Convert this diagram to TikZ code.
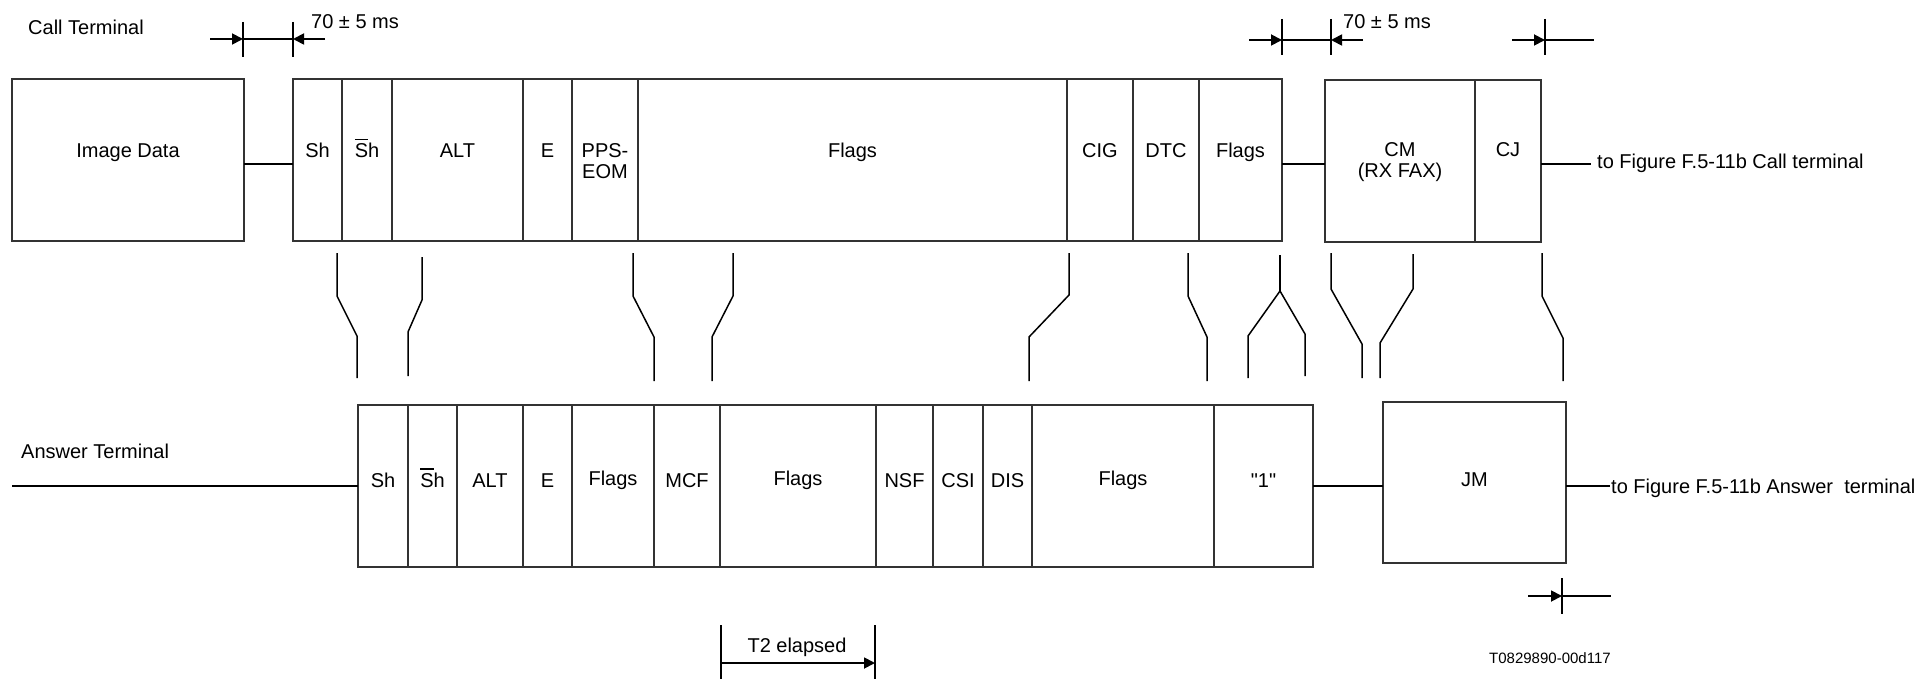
\documentclass[tikz,border=0pt]{standalone}
\usepackage{fontspec}
\setmainfont{Liberation Sans}
\newfontfamily\plainq[Ligatures=TeXOff]{Liberation Sans}
\usetikzlibrary{arrows.meta}
\newcommand\lbl[2][2pt]{\raisebox{#1}[0pt][0pt]{\begin{tabular}[t]{@{}c@{}}#2\end{tabular}}}
\newcommand\Sbar{\setbox0\hbox{S}\rlap{\rule[17.5pt]{\wd0}{1.3pt}}\box0 h}
\begin{document}
\begin{tikzpicture}[x=1pt,y=-1pt,
  every node/.style={font=\fontsize{20}{21}\selectfont},
  cell/.style={draw=black!80,line width=1.1pt,rectangle,anchor=north west,outer sep=0pt,inner sep=0pt,minimum height=162pt},
  txt/.style={anchor=base west,inner sep=0pt},
  wire/.style={line width=1.8pt},
  zz/.style={line width=1.5pt},
  tick/.style={line width=1.8pt},
  arr/.style={-{Triangle[length=11pt,width=11pt]},line width=1.8pt}]
\useasboundingbox (0,0) rectangle (1932,679);

% ---- Call terminal row ----
\node[txt] (ct) at (28,35) {Call Terminal};
\node[cell,minimum width=232pt] (img) at (12,79) {\lbl{Image Data}};
\node[cell,minimum width=49pt] (tsh) at (293,79) {\lbl{Sh}};
\node[cell,minimum width=50pt] (tshb) at (342,79) {\lbl{\Sbar}};
\node[cell,minimum width=131pt] (talt) at (392,79) {\lbl{ALT}};
\node[cell,minimum width=49pt] (te) at (523,79) {\lbl{E}};
\node[cell,minimum width=66pt] (tpps) at (572,79) {\lbl{PPS-\\EOM}};
\node[cell,minimum width=429pt] (tfl1) at (638,79) {\lbl{Flags}};
\node[cell,minimum width=66pt] (tcig) at (1067,79) {\lbl{CIG}};
\node[cell,minimum width=66pt] (tdtc) at (1133,79) {\lbl{DTC}};
\node[cell,minimum width=83pt] (tfl2) at (1199,79) {\lbl{Flags}};
\node[cell,minimum width=150pt] (tcm) at (1325,80) {\lbl[4pt]{CM\\(RX FAX)}};
\node[cell,minimum width=66pt] (tcj) at (1475,80) {\lbl[4pt]{CJ}};
\node[txt] (toc) at (1597,169) {to Figure F.5-11b Call terminal};

\draw[wire] ([yshift=-4pt]img.east) -- ([yshift=-4pt]tsh.west);
\draw[wire] ([yshift=-4pt]tfl2.east) -- ([yshift=-4pt]tfl2.east -| tcm.west);
\draw[wire] ([yshift=-3pt]tcj.east) -- ([yshift=-3pt,xshift=-6pt]tcj.east -| toc.west);

% dimension marks (top)
\draw[tick] (243,22) -- (243,57);
\draw[tick] (293,22) -- (293,57);
\draw[arr] (210,39) -- (243,39);
\draw[tick] (243,39) -- (293,39);
\draw[arr] (325,39) -- (293,39);
\node[txt] at (311,29) {70 ± 5 ms};

\draw[tick] (1282,19) -- (1282,55);
\draw[tick] (1331,19) -- (1331,55);
\draw[arr] (1249,40) -- (1282,40);
\draw[tick] (1282,40) -- (1331,40);
\draw[arr] (1363,40) -- (1331,40);
\node[txt] at (1343,29) {70 ± 5 ms};

\draw[tick] (1545,19) -- (1545,55);
\draw[arr] (1512,40) -- (1545,40);
\draw[tick] (1545,40) -- (1594,40);

% ---- zigzag links ----
\draw[zz] (337,253) -- (337,296) -- (357,336) -- (357,378);
\draw[zz] (422,257) -- (422,300) -- (408,332) -- (408,376);
\draw[zz] (633,253) -- (633,296) -- (654,337) -- (654,381);
\draw[zz] (733,253) -- (733,296) -- (712,337) -- (712,381);
\draw[zz] (1069,253) -- (1069,295) -- (1029,337) -- (1029,381);
\draw[zz] (1188,253) -- (1188,296) -- (1207,337) -- (1207,381);
\draw[zz] (1280,255) -- (1280,291);
\draw[zz] (1248,378) -- (1248,336) -- (1280,291) -- (1305,334) -- (1305,376);
\draw[zz] (1331,253) -- (1331,289) -- (1362,344) -- (1362,378);
\draw[zz] (1413,254) -- (1413,289) -- (1380,343) -- (1380,378);
\draw[zz] (1542,253) -- (1542,296) -- (1563,338) -- (1563,381);

% ---- Answer terminal row ----
\node[txt] (at) at (21,458) {Answer Terminal};
\coordinate (astart) at (12,486);
\node[cell,minimum width=50pt] (ash) at (358,405) {\lbl[-1pt]{Sh}};
\node[cell,minimum width=49pt] (ashb) at (408,405) {\lbl[-1pt]{\Sbar}};
\node[cell,minimum width=66pt] (aalt) at (457,405) {\lbl[-1pt]{ALT}};
\node[cell,minimum width=49pt] (ae) at (523,405) {\lbl[-1pt]{E}};
\node[cell,minimum width=82pt] (afl1) at (572,405) {\lbl[1pt]{Flags}};
\node[cell,minimum width=66pt] (amcf) at (654,405) {\lbl[-1pt]{MCF}};
\node[cell,minimum width=156pt] (afl2) at (720,405) {\lbl[1pt]{Flags}};
\node[cell,minimum width=57pt] (ansf) at (876,405) {\lbl[-1pt]{NSF}};
\node[cell,minimum width=50pt] (acsi) at (933,405) {\lbl[-1pt]{CSI}};
\node[cell,minimum width=49pt] (adis) at (983,405) {\lbl[-1pt]{DIS}};
\node[cell,minimum width=182pt] (afl3) at (1032,405) {\lbl[1pt]{Flags}};
\node[cell,minimum width=99pt] (aone) at (1214,405) {\lbl[-1pt]{{\plainq "1"}}};
\node[cell,minimum width=183pt,minimum height=161pt] (ajm) at (1383,402) {\lbl[-4pt]{JM}};
\node[txt] (toa) at (1611,493) {to Figure F.5-11b Answer\ \ terminal};

\draw[wire] (astart) -- (astart -| ash.west);
\draw[wire] (aone.east) -- (aone.east -| ajm.west);
\draw[wire] ([yshift=-3.5pt]ajm.east) -- ([yshift=-3.5pt,xshift=-1pt]ajm.east -| toa.west);

% dimension mark (bottom)
\draw[tick] (1562,578) -- (1562,614);
\draw[arr] (1528,596) -- (1562,596);
\draw[tick] (1562,596) -- (1611,596);

% T2 elapsed
\draw[tick] (721,625) -- (721,679);
\draw[tick] (875,625) -- (875,679);
\draw[arr] (721,663) -- (875,663);
\node[anchor=base,inner sep=0pt] (t2) at (797,652) {T2 elapsed};

\node[txt,font=\fontsize{15}{18}\selectfont] (fig) at (1489,663) {T0829890-00d117};
\end{tikzpicture}
\end{document}
